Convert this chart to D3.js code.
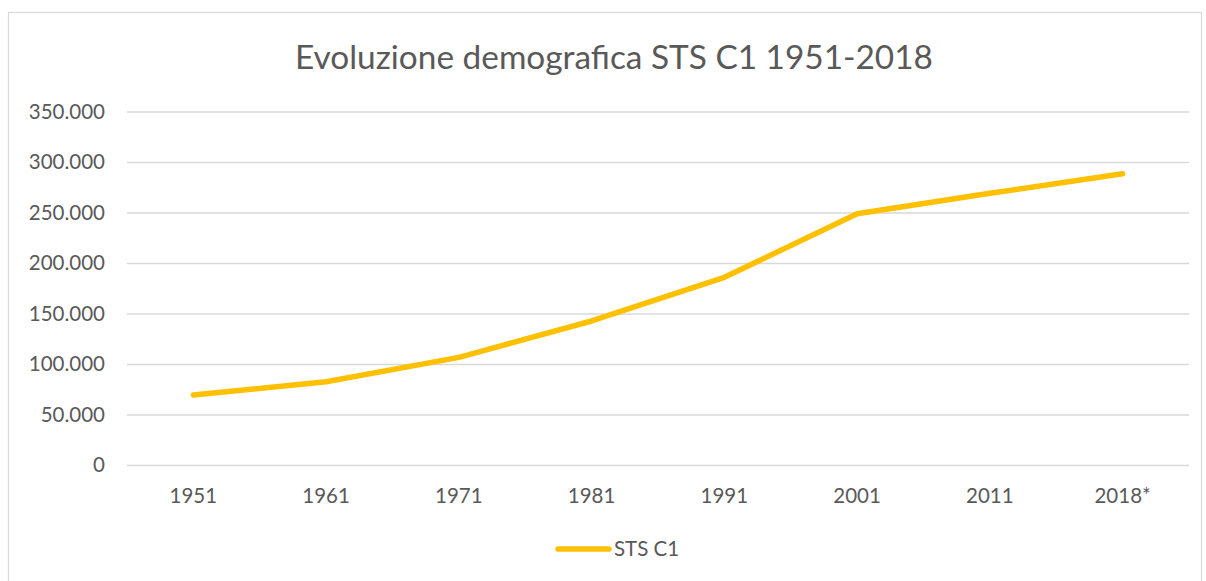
<!DOCTYPE html>
<html><head><meta charset="utf-8">
<script src="https://cdn.jsdelivr.net/npm/d3@7"></script>
<style>body{margin:0;background:#fff}svg{display:block}</style>
</head><body>
<svg id="c" width="1206" height="581"></svg>
<script>
const categories = ["1951","1961","1971","1981","1991","2001","2011","2018*"];
const values = [69300, 82500, 106600, 142600, 185800, 248800, 269000, 288400];
const yTicks = [0,50000,100000,150000,200000,250000,300000,350000];
const seriesName = "STS C1";
const title = "Evoluzione demografica STS C1 1951-2018";

const svg = d3.select("#c");
const font = "Lato, 'Open Sans', sans-serif";
const txt = "#595959";
svg.append("rect").attr("x",8.5).attr("y",12.5).attr("width",1193).attr("height",620)
  .attr("fill","#fff").attr("stroke","#d9d9d9").attr("stroke-width",1.2);

const x = d3.scaleBand().domain(categories).range([127,1189]);
const y = d3.scaleLinear().domain([0,350000]).range([465,111.5]);

svg.append("text").attr("x",614).attr("y",68.5).attr("text-anchor","middle")
  .attr("font-family",font).attr("font-weight",400).attr("font-size",33.4).attr("fill",txt).text(title);

const ga = svg.append("g").attr("transform","translate(127,0)")
  .call(d3.axisLeft(y).tickValues(yTicks).tickSize(-1062)
    .tickFormat(d => d3.format(",")(d).replace(/,/g,".")).tickPadding(22));
ga.select(".domain").remove();
ga.selectAll(".tick line").attr("stroke","#d9d9d9").attr("stroke-width",1.3);
ga.selectAll(".tick text").attr("font-family",font).attr("font-size",20.5).attr("fill",txt);

const gx = svg.append("g").attr("transform","translate(0,465)")
  .call(d3.axisBottom(x).tickSize(0).tickPadding(23));
gx.select(".domain").remove();
gx.selectAll(".tick text").attr("font-family",font).attr("font-size",20.5).attr("fill",txt);

const line = d3.line().x((d,i)=>x(categories[i])+x.bandwidth()/2).y(d=>y(d));
svg.append("path").datum(values).attr("d",line).attr("fill","none")
  .attr("stroke","#FFC000").attr("stroke-width",5.5)
  .attr("stroke-linecap","round").attr("stroke-linejoin","round");

svg.append("line").attr("x1",558).attr("x2",609).attr("y1",549).attr("y2",549)
  .attr("stroke","#FFC000").attr("stroke-width",5.5).attr("stroke-linecap","round");
svg.append("text").attr("x",614).attr("y",556).attr("font-family",font).attr("font-size",20.5)
  .attr("fill",txt).text(seriesName);
</script>
</body></html>
